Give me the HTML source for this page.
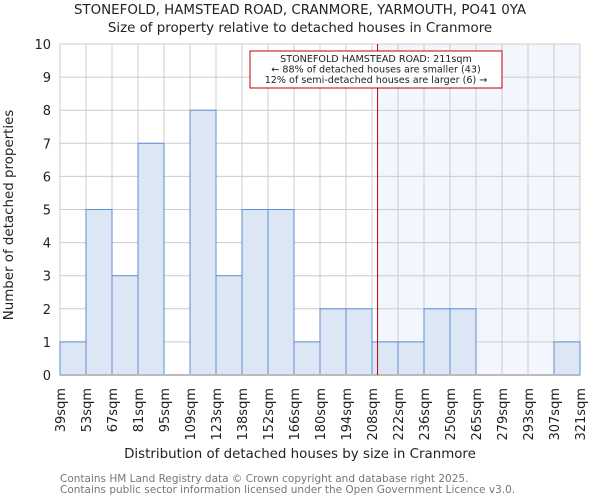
<!DOCTYPE html>
<html><head><meta charset="utf-8"><style>
body{margin:0;background:#fff;font-family:"DejaVu Sans","Liberation Sans",sans-serif;}
svg text{font-family:"DejaVu Sans","Liberation Sans",sans-serif;}
</style></head><body>
<svg id="c" width="600" height="500">
<text x="300" y="14" font-size="13.4" text-anchor="middle" fill="#222">STONEFOLD, HAMSTEAD ROAD, CRANMORE, YARMOUTH, PO41 0YA</text>
<text x="300" y="32" font-size="13.4" text-anchor="middle" fill="#222">Size of property relative to detached houses in Cranmore</text>
<text x="300" y="458" font-size="13.4" text-anchor="middle" fill="#222">Distribution of detached houses by size in Cranmore</text>
<text transform="translate(13,215) rotate(-90)" font-size="13.4" text-anchor="middle" fill="#222">Number of detached properties</text>
<text x="60" y="482" font-size="10.5" fill="#777">Contains HM Land Registry data © Crown copyright and database right 2025.</text>
<text x="60" y="493" font-size="10.5" fill="#777">Contains public sector information licensed under the Open Government Licence v3.0.</text>
</svg>
<script>
const binLabels=["39sqm","53sqm","67sqm","81sqm","95sqm","109sqm","123sqm","138sqm","152sqm","166sqm","180sqm","194sqm","208sqm","222sqm","236sqm","250sqm","265sqm","279sqm","293sqm","307sqm","321sqm"];
const counts=[1,5,3,7,0,8,3,5,5,1,2,2,1,1,2,2,0,0,0,1];
const yTicks=[0,1,2,3,4,5,6,7,8,9,10];
const propertyBin=12+3/14;
const NS="http://www.w3.org/2000/svg";
const svg=document.getElementById('c');
const X0=60,X1=580,Y0=375,Y1=44,YMAX=10;
const bw=(X1-X0)/counts.length;
const xs=i=>X0+i*bw;
const ys=v=>Y0-(v/YMAX)*(Y0-Y1);
function mk(t,a){const e=document.createElementNS(NS,t);for(const k in a)e.setAttribute(k,a[k]);svg.appendChild(e);return e;}
const px=xs(propertyBin);
let sh=mk('rect',{x:px,y:Y1,width:X1-px,height:Y0-Y1,fill:'#f3f6fd'});


yTicks.forEach(v=>{
 let g=mk('line',{x1:X0,x2:X1,y1:ys(v),y2:ys(v),stroke:'#cccccc'});
 
 
 let t=mk('text',{x:X0-9,y:ys(v)+5,'font-size':13,'text-anchor':'end',fill:'#222'});t.textContent=v;
 
 
});
binLabels.forEach((l,i)=>{
 let g=mk('line',{x1:xs(i),x2:xs(i),y1:Y1,y2:Y0,stroke:'#cccccc'});
 
 
 let t=mk('text',{transform:`translate(${xs(i)+5},388) rotate(-90)`,'font-size':13,'text-anchor':'end',fill:'#222'});t.textContent=l;
 
 
});
counts.forEach((c,i)=>{
 if(c<=0)return;
 let r=mk('rect',{x:xs(i),y:ys(c),width:bw,height:Y0-ys(c),fill:'#dce6f4',stroke:'#5b8fd6','stroke-width':1});
 
 
});
let ax=mk('line',{x1:X0,x2:X1,y1:Y0,y2:Y0,stroke:'#bbbbbb','stroke-width':2});


let pl=mk('line',{x1:px,x2:px,y1:Y1,y2:Y0,stroke:'#c00000','stroke-width':1});


let box=mk('rect',{x:250,y:51,width:252,height:37,fill:'#fff',stroke:'#c00000','stroke-width':1});


["STONEFOLD HAMSTEAD ROAD: 211sqm","← 88% of detached houses are smaller (43)","12% of semi-detached houses are larger (6) →"].forEach((s,i)=>{
 let t=mk('text',{x:376,y:62+i*10.5,'font-size':9.6,'text-anchor':'middle',fill:'#222'});t.textContent=s;
 
 
});
</script>
</body></html>
